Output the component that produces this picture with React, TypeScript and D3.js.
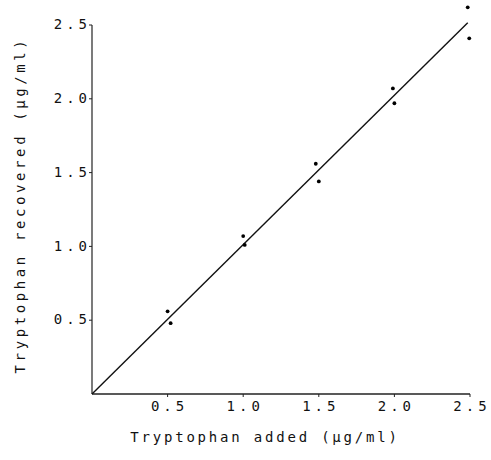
import { useEffect, useRef } from "react";
import * as d3 from "d3";

// tryptophan added (x) vs recovered (y), duplicate determinations
const addedValues = [0.5, 0.52, 1.0, 1.01, 1.48, 1.5, 1.99, 2.0, 2.485, 2.495];
const recoveredValues = [0.56, 0.48, 1.07, 1.01, 1.56, 1.44, 2.07, 1.97, 2.62, 2.41];

// fitted line end points
const fitX = [0, 2.485];
const fitY = [0, 2.515];

const xTicks = [0.5, 1.0, 1.5, 2.0, 2.5];
const yTicks = [0.5, 1.0, 1.5, 2.0, 2.5];

const xTitle = "Tryptophan added (\u03bcg/ml)";
const yTitle = "Tryptophan recovered (\u03bcg/ml)";

const FONT = "'DejaVu Sans Mono', monospace";

const App = () => {
  const ref = useRef<SVGSVGElement | null>(null);

  useEffect(() => {
    if (!ref.current) return;
    const svg = d3.select(ref.current);
    svg.selectAll("*").remove();

    const x = d3.scaleLinear().domain([0, 2.5]).range([92, 470]);
    const y = d3.scaleLinear().domain([0, 2.5]).range([394, 25]);

    // x axis
    const gx = svg.append("g").attr("transform", `translate(0,${y(0)})`);
    gx.append("line")
      .attr("x1", x(0))
      .attr("x2", x(2.5))
      .attr("stroke", "#222")
      .attr("stroke-width", 1.5);
    gx.selectAll("line.tick")
      .data(xTicks)
      .join("line")
      .attr("class", "tick")
      .attr("x1", d => x(d))
      .attr("x2", d => x(d))
      .attr("y1", 0)
      .attr("y2", 3)
      .attr("stroke", "#222")
      .attr("stroke-width", 1);
    gx.selectAll("text")
      .data(xTicks)
      .join("text")
      .attr("x", d => x(d) + 2)
      .attr("y", 17)
      .attr("text-anchor", "middle")
      .style("font-family", FONT)
      .style("font-size", "14px")
      .style("letter-spacing", "4px")
      .attr("fill", "#111")
      .text(d => d.toFixed(1));

    // y axis
    const gy = svg.append("g").attr("transform", `translate(${x(0)},0)`);
    gy.append("line")
      .attr("y1", y(0))
      .attr("y2", y(2.5))
      .attr("stroke", "#222")
      .attr("stroke-width", 1.2);
    gy.selectAll("line.tick")
      .data(yTicks)
      .join("line")
      .attr("class", "tick")
      .attr("y1", d => y(d))
      .attr("y2", d => y(d))
      .attr("x1", 0)
      .attr("x2", -3)
      .attr("stroke", "#222")
      .attr("stroke-width", 1);
    gy.selectAll("text")
      .data(yTicks)
      .join("text")
      .attr("x", -1)
      .attr("y", d => y(d))
      .attr("dy", "0.3em")
      .attr("text-anchor", "end")
      .style("font-family", FONT)
      .style("font-size", "14px")
      .style("letter-spacing", "4px")
      .attr("fill", "#111")
      .text(d => d.toFixed(1));

    // titles
    svg.append("text")
      .attr("x", 265)
      .attr("y", 442)
      .attr("text-anchor", "middle")
      .style("font-family", FONT)
      .style("font-size", "14px")
      .style("letter-spacing", "2.8px")
      .attr("fill", "#111")
      .text(xTitle);

    svg.append("text")
      .attr("transform", "rotate(-90)")
      .attr("x", -205)
      .attr("y", 25)
      .attr("text-anchor", "middle")
      .style("font-family", FONT)
      .style("font-size", "14px")
      .style("letter-spacing", "3.6px")
      .attr("fill", "#111")
      .text(yTitle);

    // fitted line
    const line = d3
      .line<number>()
      .x(i => x(fitX[i]))
      .y(i => y(fitY[i]));
    svg.append("path")
      .datum([0, 1])
      .attr("fill", "none")
      .attr("stroke", "#111")
      .attr("stroke-width", 1.4)
      .attr("d", line);

    // points
    svg.selectAll("circle")
      .data(addedValues.map((v, i) => [v, recoveredValues[i]]))
      .join("circle")
      .attr("cx", d => x(d[0]))
      .attr("cy", d => y(d[1]))
      .attr("r", 1.9)
      .attr("fill", "#000");
  }, []);

  return (
    <svg
      ref={ref}
      width={491}
      height={460}
      style={{ position: "absolute", left: 0, top: 0, background: "#fff" }}
    />
  );
};

export default App;
